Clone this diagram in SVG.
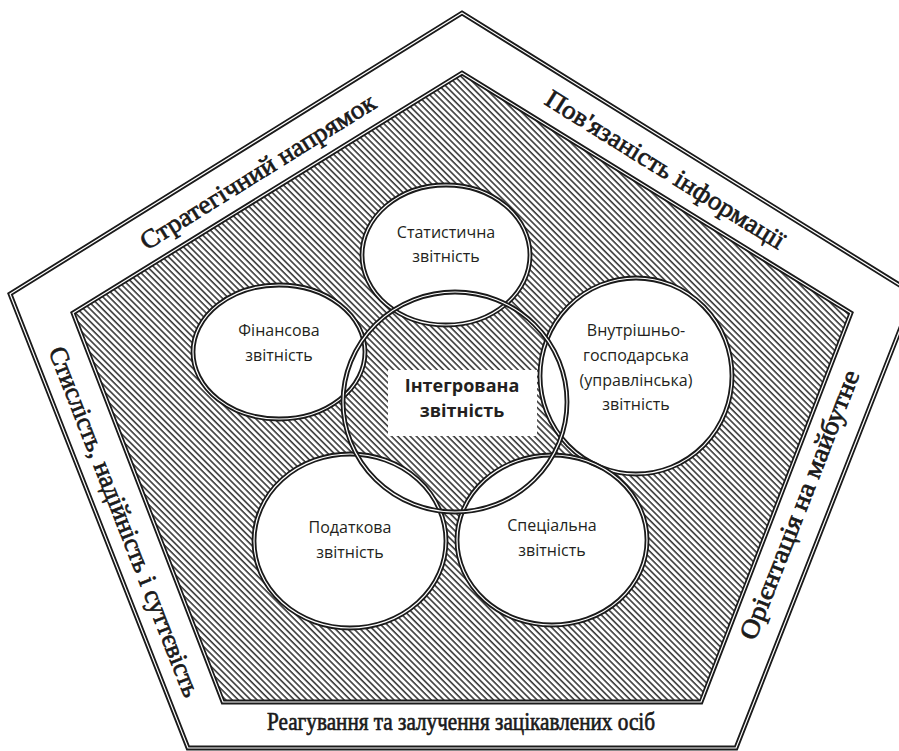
<svg xmlns="http://www.w3.org/2000/svg" width="899" height="751" viewBox="0 0 899 751">
<defs>
<pattern id="hatch" patternUnits="userSpaceOnUse" width="8" height="4.4" patternTransform="rotate(45)">
<rect x="0" y="0" width="8" height="4.4" fill="#fff"/>
<rect x="0" y="0" width="8" height="1.6" fill="#3a3a3a"/>
</pattern>
</defs>
<style>
.dbl{fill:none;stroke:#1a1a1a;stroke-width:4.8;stroke-linejoin:miter}
.dbl-in{fill:none;stroke:#fff;stroke-width:1.2;stroke-linejoin:miter}
.wf{fill:#fff;stroke:none}
.band{font-family:"Liberation Serif","Times New Roman",serif;font-size:26px;font-weight:normal;fill:#1a1a1a;stroke:#1a1a1a;stroke-width:0.7;text-anchor:middle}
.lbl{font-family:"Open Sans","Noto Sans","Liberation Sans",sans-serif;font-size:16px;fill:#231f20;text-anchor:middle}
.lblb{font-family:"Open Sans","Noto Sans","Liberation Sans",sans-serif;font-size:18px;font-weight:bold;fill:#231f20;text-anchor:middle}
</style>
<rect width="899" height="751" fill="#fff"/>
<g id="outer-pentagon">
<polygon class="dbl" points="462,13 914,294 736,748 188,748 10,294"/>
<polygon class="dbl-in" points="462,13 914,294 736,748 188,748 10,294"/>
</g>
<g id="inner-pentagon">
<polygon points="462,73 851,313 701,702 223,702 73,313" fill="url(#hatch)" stroke="none"/>
<polygon class="dbl" points="462,73 851,313 701,702 223,702 73,313"/>
<polygon class="dbl-in" points="462,73 851,313 701,702 223,702 73,313"/>
</g>
<g id="band-labels">
<text class="band" transform="translate(258,172) rotate(-31.9)" x="0" y="8" textLength="272" lengthAdjust="spacingAndGlyphs">Стратегічний напрямок</text>
<text class="band" transform="translate(665,170) rotate(31.9)" x="0" y="8" textLength="277" lengthAdjust="spacingAndGlyphs">Пов'язаність інформації</text>
<text class="band" transform="translate(800,505) rotate(-68.6)" x="0" y="8" textLength="287" lengthAdjust="spacingAndGlyphs">Орієнтація на майбутне</text>
<text class="band" transform="translate(124,522) rotate(68.6)" x="0" y="8" textLength="374" lengthAdjust="spacingAndGlyphs">Стислість, надійність і суттєвість</text>
<text class="band" x="461" y="730" textLength="388" lengthAdjust="spacingAndGlyphs">Реагування та залучення зацікавлених осіб</text>
</g>
<g id="fills">
<ellipse class="wf" cx="446" cy="255" rx="84" ry="70"/>
<ellipse class="wf" cx="279" cy="352" rx="86" ry="67"/>
<ellipse class="wf" cx="636" cy="376" rx="96" ry="98"/>
<ellipse class="wf" cx="350" cy="541" rx="96" ry="87"/>
<ellipse class="wf" cx="552" cy="540" rx="95" ry="85"/>
<rect class="wf" x="388" y="370" width="149" height="66"/>
</g>
<g id="statistical">
<ellipse class="dbl" cx="446" cy="255" rx="84" ry="70"/>
<ellipse class="dbl-in" cx="446" cy="255" rx="84" ry="70"/>
<text class="lbl" x="446" y="238">Статистична</text>
<text class="lbl" x="446" y="262">звітність</text>
</g>
<g id="financial">
<ellipse class="dbl" cx="279" cy="352" rx="86" ry="67"/>
<ellipse class="dbl-in" cx="279" cy="352" rx="86" ry="67"/>
<text class="lbl" x="279" y="336">Фінансова</text>
<text class="lbl" x="279" y="361">звітність</text>
</g>
<g id="internal">
<ellipse class="dbl" cx="636" cy="376" rx="96" ry="98"/>
<ellipse class="dbl-in" cx="636" cy="376" rx="96" ry="98"/>
<text class="lbl" x="636" y="336">Внутрішньо-</text>
<text class="lbl" x="636" y="361">господарська</text>
<text class="lbl" x="636" y="386">(управлінська)</text>
<text class="lbl" x="636" y="410">звітність</text>
</g>
<g id="tax">
<ellipse class="dbl" cx="350" cy="541" rx="96" ry="87"/>
<ellipse class="dbl-in" cx="350" cy="541" rx="96" ry="87"/>
<text class="lbl" x="350" y="533">Податкова</text>
<text class="lbl" x="350" y="558">звітність</text>
</g>
<g id="special">
<ellipse class="dbl" cx="552" cy="540" rx="95" ry="85"/>
<ellipse class="dbl-in" cx="552" cy="540" rx="95" ry="85"/>
<text class="lbl" x="552" y="531">Спеціальна</text>
<text class="lbl" x="552" y="556">звітність</text>
</g>
<g id="integrated">
<ellipse class="dbl" cx="455" cy="402" rx="112" ry="110"/>
<ellipse class="dbl-in" cx="455" cy="402" rx="112" ry="110"/>
<text class="lblb" x="462" y="392">Інтегрована</text>
<text class="lblb" x="462" y="417">звітність</text>
</g>
</svg>
